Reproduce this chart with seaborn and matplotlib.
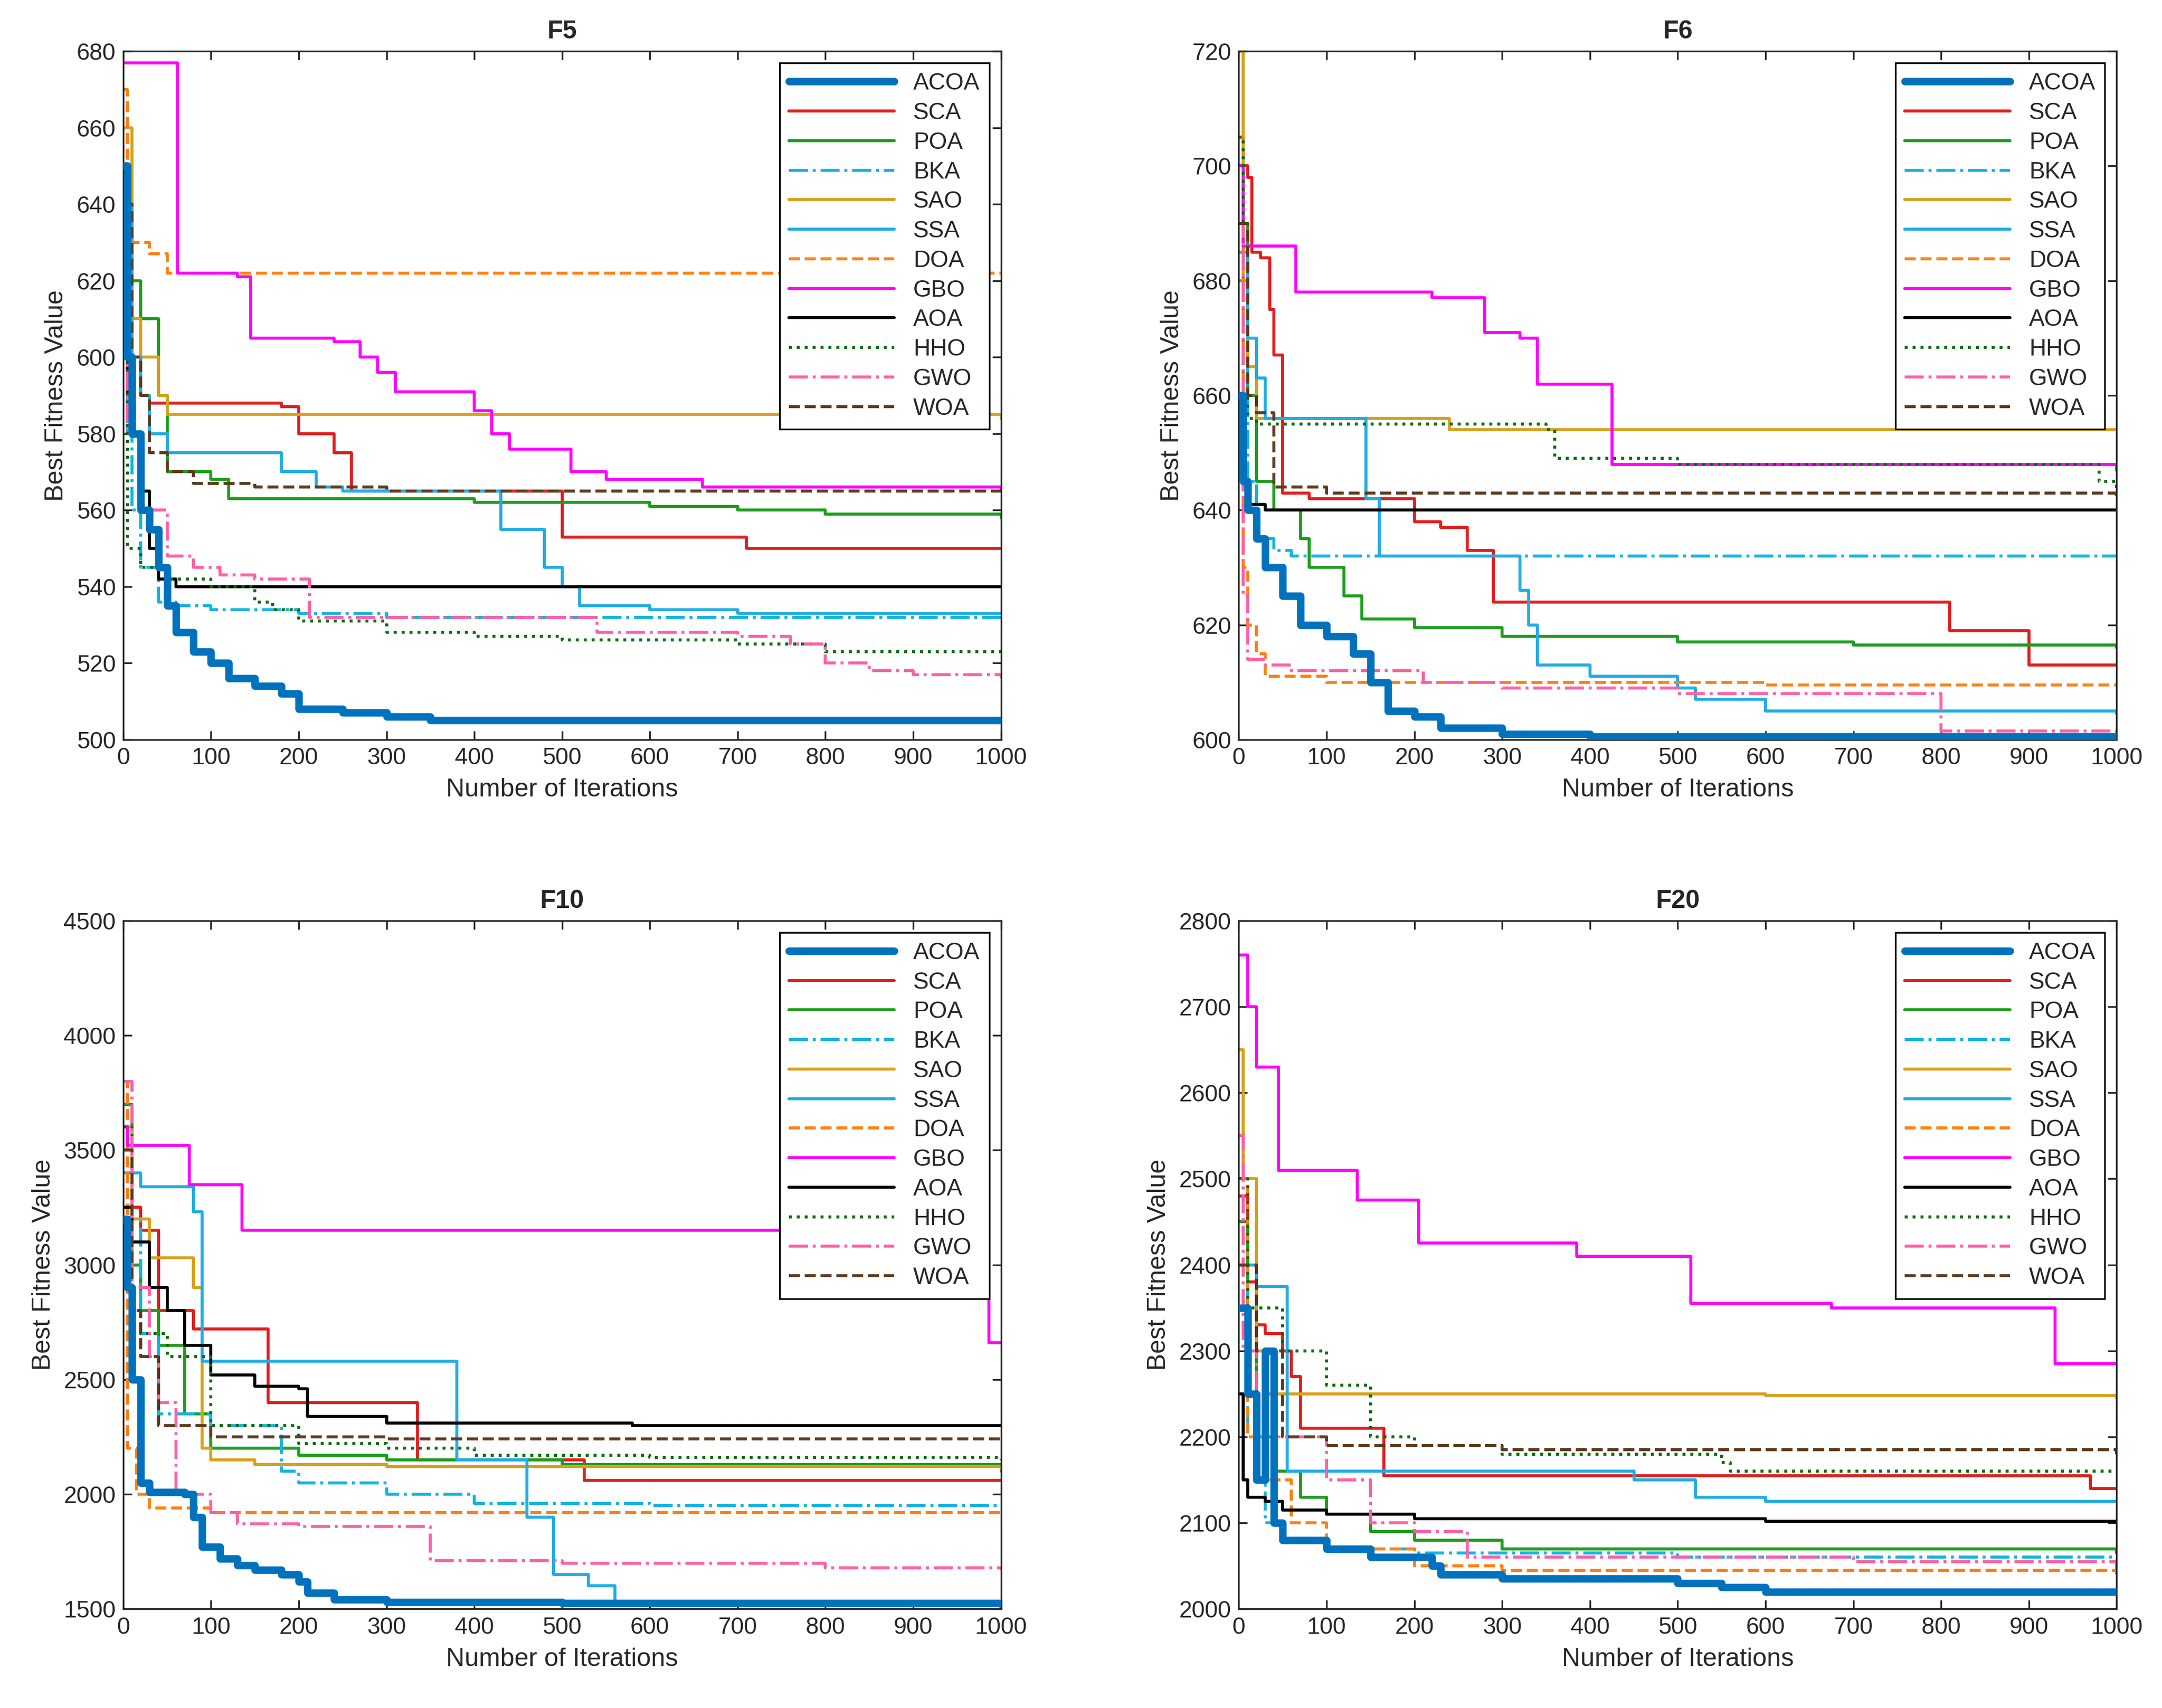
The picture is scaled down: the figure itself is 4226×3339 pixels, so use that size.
import matplotlib
matplotlib.use("Agg")
import matplotlib.pyplot as plt
import seaborn as sns

sns.set_style("ticks")
plt.rcParams['font.family'] = ['Liberation Sans', 'DejaVu Sans']
plt.rcParams['xtick.direction'] = 'in'
plt.rcParams['ytick.direction'] = 'in'

algos = ["ACOA", "SCA", "POA", "BKA", "SAO", "SSA", "DOA", "GBO", "AOA", "HHO", "GWO", "WOA"]
colors = ["#0072BD", "#E01E1E", "#1C9E1C", "#12B4E0", "#D9A01A", "#20ACE4", "#FF8010",
          "#FF00FF", "#000000", "#0B6B0B", "#FF5FA8", "#5C3A1E"]
styles = ["-", "-", "-", "-.", "-", "-", "--", "-", "-", ":", "-.", "--"]
widths = [3.5, 1.4, 1.4, 1.4, 1.4, 1.4, 1.4, 1.4, 1.4, 1.4, 1.4, 1.4]

titles = ["F5", "F6", "F10", "F20"]
ylims = [(500, 680), (600, 720), (1500, 4500), (2000, 2800)]
yticks = [list(range(500, 681, 20)), list(range(600, 721, 20)),
          list(range(1500, 4501, 500)), list(range(2000, 2801, 100))]

F5 = {
 "ACOA": [(0,650),(5,600),(10,580),(20,560),(30,555),(40,545),(50,535),(60,528),(80,523),(100,520),(120,516),(150,514),(180,512),(200,508),(250,507),(300,506),(350,505),(1000,505)],
 "SCA": [(0,640),(10,600),(20,590),(30,588),(180,587),(200,580),(240,575),(260,565),(490,565),(500,553),(710,550),(1000,550)],
 "POA": [(0,640),(10,620),(20,610),(40,590),(50,570),(100,568),(120,563),(400,562),(600,561),(700,560),(800,559),(1000,558)],
 "BKA": [(0,630),(5,580),(10,560),(20,545),(40,536),(60,535),(100,534),(200,533),(300,532),(1000,532)],
 "SAO": [(0,660),(10,610),(20,600),(40,590),(50,585),(1000,584)],
 "SSA": [(0,640),(10,600),(20,590),(30,580),(50,575),(150,575),(180,570),(220,566),(250,565),(420,565),(430,555),(480,545),(500,540),(520,535),(600,534),(700,533),(1000,533)],
 "DOA": [(0,670),(5,630),(30,627),(50,622),(1000,622)],
 "GBO": [(0,677),(60,677),(62,622),(90,622),(130,621),(145,605),(240,604),(270,600),(290,596),(310,591),(380,591),(400,586),(420,580),(440,576),(500,576),(510,570),(550,568),(660,566),(1000,565)],
 "AOA": [(0,610),(5,590),(10,580),(20,565),(30,550),(40,542),(60,540),(1000,540)],
 "HHO": [(0,600),(5,550),(20,545),(50,542),(100,540),(150,536),(170,534),(200,531),(300,528),(400,527),(500,526),(700,525),(800,523),(1000,523)],
 "GWO": [(0,620),(5,580),(20,560),(50,548),(80,545),(110,543),(150,542),(210,542),(212,532),(520,532),(540,528),(700,527),(760,525),(800,520),(850,518),(900,517),(1000,516)],
 "WOA": [(0,640),(10,600),(20,590),(30,575),(50,570),(80,567),(150,566),(300,565),(1000,565)],
}
F6 = {
 "ACOA": [(0,660),(5,645),(10,640),(20,635),(30,630),(50,625),(70,620),(100,618),(130,615),(150,610),(170,605),(200,604),(230,602),(300,601),(400,600.5),(1000,600)],
 "SCA": [(0,700),(10,698),(15,685),(25,684),(35,675),(40,667),(50,643),(80,642),(200,638),(230,637),(260,633),(290,624),(800,624),(810,619),(900,613),(1000,613)],
 "POA": [(0,690),(10,660),(20,645),(40,640),(70,635),(80,630),(120,625),(140,621),(200,619.5),(300,618),(500,617),(700,616.5),(1000,616)],
 "BKA": [(0,680),(10,645),(20,635),(40,633),(60,632),(1000,632)],
 "SAO": [(0,720),(5,680),(10,665),(20,656),(230,656),(240,654),(1000,654)],
 "SSA": [(0,685),(10,670),(20,663),(30,656),(140,656),(145,642),(160,632),(300,632),(320,626),(330,620),(340,613),(400,611),(500,609),(520,607),(600,605),(1000,604.5)],
 "DOA": [(0,705),(5,630),(10,620),(20,615),(30,611),(100,610),(600,609.5),(1000,609.5)],
 "GBO": [(0,700),(5,686),(60,686),(65,678),(200,678),(220,677),(280,671),(320,670),(340,662),(420,662),(425,648),(1000,647)],
 "AOA": [(0,660),(5,645),(10,641),(30,640),(1000,640)],
 "HHO": [(0,705),(5,660),(10,656),(20,655),(350,654),(360,649),(500,648),(980,645),(1000,642)],
 "GWO": [(0,690),(5,625),(10,614),(30,613),(60,612),(200,612),(210,610),(300,609),(500,608),(800,601.5),(1000,600.5)],
 "WOA": [(0,690),(10,660),(20,657),(40,644),(100,643),(1000,643)],
}
F10 = {
 "ACOA": [(0,3200),(5,2900),(10,2500),(20,2050),(30,2010),(70,2000),(80,1900),(90,1770),(110,1720),(130,1690),(150,1670),(180,1650),(200,1620),(210,1570),(240,1540),(300,1530),(500,1525),(1000,1520)],
 "SCA": [(0,3400),(10,3250),(20,3150),(40,2800),(80,2720),(160,2720),(165,2400),(330,2400),(335,2150),(520,2150),(525,2060),(1000,2060)],
 "POA": [(0,3700),(10,3000),(20,2800),(40,2650),(70,2350),(100,2200),(200,2170),(300,2150),(500,2130),(1000,2100)],
 "BKA": [(0,3500),(10,3200),(20,2700),(40,2350),(100,2300),(170,2300),(180,2100),(200,2050),(300,2000),(400,1960),(600,1950),(1000,1950)],
 "SAO": [(0,3600),(10,3200),(30,3030),(80,2900),(90,2200),(100,2150),(150,2130),(300,2120),(1000,2110)],
 "SSA": [(0,3400),(20,3340),(80,3230),(90,2580),(360,2580),(380,2150),(440,2150),(460,1900),(490,1650),(530,1600),(560,1520),(1000,1520)],
 "DOA": [(0,3800),(5,2200),(15,2000),(30,1940),(100,1920),(1000,1920)],
 "GBO": [(0,3600),(5,3520),(70,3520),(75,3350),(130,3350),(135,3150),(985,3150),(986,2660),(1000,2660)],
 "AOA": [(0,3250),(10,3100),(30,2900),(50,2800),(70,2650),(100,2520),(150,2470),(200,2460),(210,2340),(300,2310),(570,2310),(580,2300),(1000,2300)],
 "HHO": [(0,3600),(10,2800),(20,2700),(50,2600),(100,2300),(200,2220),(300,2200),(400,2170),(600,2160),(1000,2150)],
 "GWO": [(0,3800),(10,2900),(30,2600),(40,2400),(60,2000),(100,1920),(130,1870),(200,1860),(350,1710),(500,1700),(800,1680),(1000,1670)],
 "WOA": [(0,3500),(10,2800),(20,2600),(40,2300),(100,2250),(300,2240),(1000,2240)],
}
F20 = {
 "ACOA": [(0,2350),(10,2250),(20,2150),(30,2300),(40,2100),(50,2080),(100,2070),(150,2060),(220,2050),(230,2040),(300,2035),(500,2030),(550,2025),(600,2020),(1000,2020)],
 "SCA": [(0,2480),(10,2380),(20,2330),(30,2320),(50,2300),(60,2270),(70,2210),(160,2210),(165,2155),(960,2155),(970,2140),(1000,2140)],
 "POA": [(0,2450),(10,2300),(20,2200),(40,2160),(70,2130),(100,2110),(150,2090),(200,2080),(300,2070),(1000,2065)],
 "BKA": [(0,2400),(10,2200),(30,2100),(50,2080),(100,2070),(200,2065),(500,2060),(1000,2060)],
 "SAO": [(0,2650),(5,2500),(20,2300),(30,2250),(400,2250),(600,2248),(1000,2245)],
 "SSA": [(0,2400),(20,2375),(50,2375),(55,2160),(400,2160),(450,2150),(520,2130),(600,2125),(1000,2125)],
 "DOA": [(0,2500),(10,2200),(30,2150),(60,2100),(100,2070),(200,2050),(300,2045),(1000,2040)],
 "GBO": [(0,2760),(10,2700),(20,2630),(40,2630),(45,2510),(130,2510),(135,2475),(200,2475),(205,2425),(380,2425),(385,2410),(510,2410),(515,2355),(670,2355),(675,2350),(920,2350),(930,2285),(1000,2285)],
 "AOA": [(0,2250),(5,2150),(10,2130),(30,2125),(50,2115),(100,2110),(200,2105),(600,2102),(1000,2100)],
 "HHO": [(0,2500),(10,2350),(50,2300),(100,2260),(150,2200),(200,2190),(300,2180),(550,2170),(560,2160),(1000,2160)],
 "GWO": [(0,2550),(5,2300),(20,2250),(40,2200),(100,2150),(150,2100),(200,2090),(260,2060),(700,2055),(1000,2045)],
 "WOA": [(0,2400),(20,2300),(50,2200),(100,2190),(300,2185),(1000,2180)],
}
panels = [F5, F6, F10, F20]

fig = plt.figure(figsize=(4226/300, 3339/300), dpi=300)
positions = [(0.057, 0.567), (0.573, 0.567), (0.057, 0.058), (0.573, 0.058)]
for p, data in enumerate(panels):
    ax = fig.add_axes([positions[p][0], positions[p][1], 0.406, 0.403])
    for i, name in enumerate(algos):
        xs = [k[0] for k in data[name]]
        ys = [k[1] for k in data[name]]
        sns.lineplot(x=xs, y=ys, ax=ax, color=colors[i], linestyle=styles[i],
                     linewidth=widths[i], drawstyle="steps-post", label=name,
                     zorder=10 if name == "ACOA" else 2, sort=False)
    ax.set_xlim(0, 1000)
    ax.set_ylim(*ylims[p])
    ax.set_xticks(range(0, 1001, 100))
    ax.set_yticks(yticks[p])
    ax.tick_params(labelsize=11, top=True, right=True, length=4)
    ax.set_xlabel("Number of Iterations", fontsize=12)
    ax.set_ylabel("Best Fitness Value", fontsize=12)
    ax.set_title(titles[p], fontsize=12, fontweight="bold")
    for s in ax.spines.values():
        s.set_linewidth(0.8)
    leg = ax.legend(loc="upper right", fontsize=11, frameon=True, fancybox=False,
                    edgecolor="black", framealpha=1, handlelength=4.5,
                    labelspacing=0.3, borderpad=0.4)
    leg.get_frame().set_linewidth(0.8)

fig.savefig("out.png", dpi=300)
